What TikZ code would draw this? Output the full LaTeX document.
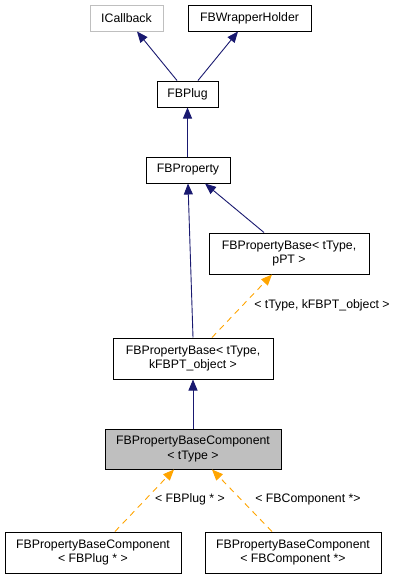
\documentclass[tikz,border=0pt]{standalone}
\usepackage{fontspec}
\setmainfont{Liberation Sans}
\usetikzlibrary{arrows.meta}
\definecolor{edgeblue}{HTML}{191970}
\definecolor{dashorange}{HTML}{FFA500}
\definecolor{lightframe}{HTML}{BFBFBF}
\definecolor{hlfill}{HTML}{BFBFBF}
\begin{document}
\begin{tikzpicture}[x=1pt,y=-1pt,
  cls/.style={draw=black,line width=1pt,fill=white,align=center,inner sep=0pt,
    font=\fontsize{12.3}{14.5}\selectfont},
  inh/.style={draw=edgeblue,line width=0.9pt,-{Triangle[length=11pt,width=9pt]}},
  tmpl/.style={draw=dashorange,line width=0.9pt,dash pattern=on 6pt off 5pt,
    -{Triangle[length=11pt,width=9pt]}},
  lbl/.style={font=\fontsize{12.3}{14}\selectfont,inner sep=0pt}]
\useasboundingbox (0,0) rectangle (400,579);
\fill[white] (0,0) rectangle (400,579);
\node[cls,draw=lightframe,minimum width=73pt,minimum height=26pt] (icb) at (126.5,18) {ICallback};
\node[cls,minimum width=123pt,minimum height=26pt] (fbw) at (249.5,18) {FBWrapperHolder};
\node[cls,minimum width=61pt,minimum height=26pt] (plug) at (187.5,94) {FBPlug};
\node[cls,minimum width=84pt,minimum height=26pt] (prop) at (188,170) {FBProperty};
\node[cls,minimum width=160pt,minimum height=41pt] (ppt) at (289,253.5) {FBPropertyBase\textless{} tType,\\pPT \textgreater};
\node[cls,minimum width=160pt,minimum height=41pt] (kfb) at (193,358.5) {FBPropertyBase\textless{} tType,\\kFBPT\_object \textgreater};
\node[cls,fill=hlfill,minimum width=176pt,minimum height=40pt] (comp) at (193,449) {FBPropertyBaseComponent\\\textless{} tType \textgreater};
\node[cls,minimum width=176pt,minimum height=41pt] (cplug) at (93,552.5) {FBPropertyBaseComponent\\\textless{} FBPlug * \textgreater};
\node[cls,minimum width=176pt,minimum height=41pt] (ccomp) at (293,552.5) {FBPropertyBaseComponent\\\textless{} FBComponent *\textgreater};

\draw[inh] ([xshift=-10.5pt]plug.north) -- ([xshift=10.5pt]icb.south);
\draw[inh] ([xshift=10.5pt]plug.north) -- ([xshift=-11.5pt]fbw.south);
\draw[inh] (plug.south |- prop.north) -- (plug.south);
\draw[inh] (kfb.north) -- (prop.south);
\draw[inh] ([xshift=-25pt]ppt.north) -- ([xshift=17pt]prop.south);
\draw[tmpl] ([xshift=19pt]kfb.north) -- ([xshift=-17pt]ppt.south);
\draw[inh] (comp.north) -- (kfb.south);
\draw[tmpl] ([xshift=22pt]cplug.north) -- ([xshift=-19pt]comp.south);
\draw[tmpl] ([xshift=-21pt]ccomp.north) -- ([xshift=19pt]comp.south);
\node[lbl] (l1) at (322,305) {\textless{} tType, kFBPT\_object \textgreater};
\node[lbl] (l2) at (190,499) {\textless{} FBPlug * \textgreater};
\node[lbl] (l3) at (308,499) {\textless{} FBComponent *\textgreater};
\end{tikzpicture}
\end{document}
